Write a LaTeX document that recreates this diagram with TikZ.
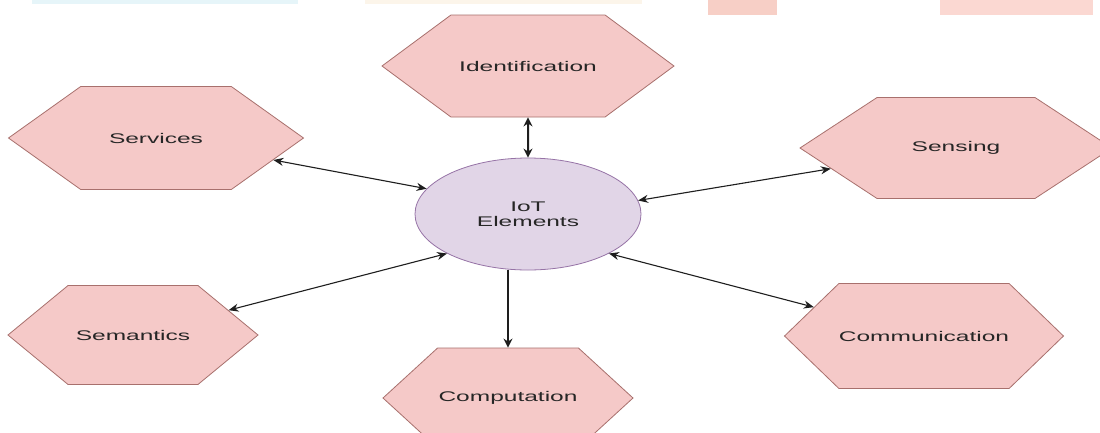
\documentclass[tikz,border=0pt]{standalone}
\usepackage{fontspec}
\setmainfont{Liberation Sans}
\newfontfamily\labfont[FakeStretch=1.75]{Liberation Sans}
\usetikzlibrary{shapes.geometric,shapes.symbols,arrows.meta}
\definecolor{hexfill}{HTML}{F5C9C8}
\definecolor{hexline}{HTML}{A8706D}
\definecolor{ellfill}{HTML}{E1D5E7}
\definecolor{ellline}{HTML}{9673A6}
\definecolor{txt}{HTML}{262626}
\definecolor{arrcol}{HTML}{1E1E1E}
\definecolor{bandcyan}{HTML}{E6F5F9}
\definecolor{bandcream}{HTML}{FCF5EA}
\definecolor{bandpeach}{HTML}{F7CFC6}
\definecolor{bandpink}{HTML}{FBD8D2}
\begin{document}
\begin{tikzpicture}[x=1pt,y=-1pt,
  lab/.style={font=\labfont\fontsize{14}{15}\selectfont, text=txt},
  hexa/.style={lab, shape=signal, signal to=east and west, draw=hexline,
    fill=hexfill, line width=0.8pt, inner sep=0pt},
  elem/.style={lab, ellipse, draw=ellline, fill=ellfill, line width=0.8pt,
    inner sep=0pt, align=center, minimum width=226pt, minimum height=112pt},
  biarrow/.style={draw=arrcol, line width=1.1pt,
    arrows={Stealth[length=10pt,width=8pt]-Stealth[length=10pt,width=8pt]}},
  bibold/.style={draw=arrcol, line width=2pt,
    arrows={Stealth[length=9pt,width=9pt]-Stealth[length=9pt,width=9pt]}},
  onebold/.style={draw=arrcol, line width=2pt,
    arrows={-Stealth[length=9pt,width=9pt]}}
]
\useasboundingbox (0,0) rectangle (1100,432);
\fill[white] (0,0) rectangle (1100,432);
% page artefacts along the top edge
\fill[bandcyan] (32,0) rectangle (298,4);
\fill[bandcream] (365,0) rectangle (642,4);
\fill[bandpeach] (708,0) rectangle (777,15);
\fill[bandpink] (940,0) rectangle (1093,15);

\node[elem] (iot) at (528,214) {IoT\\Elements};

\node[hexa, signal pointer angle=73, minimum width=292pt, minimum height=102pt] (ide) at (528,66) {Identification};
\node[hexa, signal pointer angle=71, minimum width=295pt, minimum height=103pt] (srv) at (156,138) {Services};
\node[hexa, signal pointer angle=66.5, minimum width=312pt, minimum height=101pt] (sen) at (956,148) {Sensing};
\node[hexa, signal pointer angle=79, minimum width=250pt, minimum height=99pt] (sem) at (133,335) {Semantics};
\node[hexa, signal pointer angle=88, minimum width=250pt, minimum height=105pt] (com) at (924,336) {Communication};
\node[hexa, signal pointer angle=85, minimum width=250pt, minimum height=100pt] (cmp) at (508,398) {Computation};

\draw[bibold] (ide) -- (iot);
\draw[biarrow] (srv) -- (iot.166.6);
\draw[biarrow] (sen) -- (iot.7.8);
\draw[biarrow] (sem) -- (iot.206.8);
\draw[biarrow] (com) -- (iot.334.3);
\draw[onebold] (iot.south -| cmp.north) -- (cmp.north);
\end{tikzpicture}
\end{document}
